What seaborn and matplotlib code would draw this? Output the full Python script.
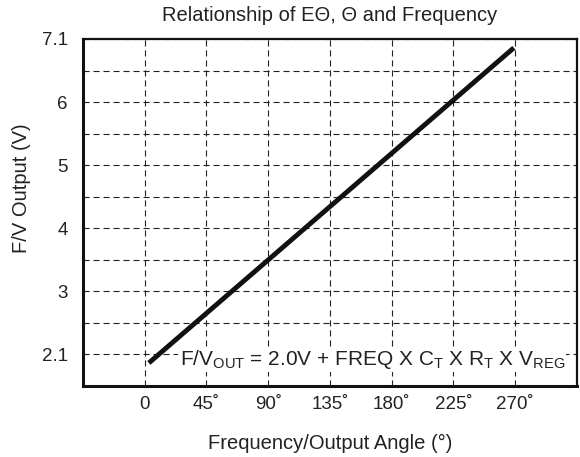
import matplotlib
matplotlib.use("Agg")
import matplotlib.pyplot as plt
import seaborn as sns
import pandas as pd

# Data (y in plotted axis units; labels 2.1 / 7.1 sit on 2 and 7)
angle = [3, 269]
fv_out = [1.865, 6.86]

x_ticks = [0, 45, 90, 135, 180, 225, 270]
x_tick_labels = ["0", "45˚", "90˚", "135˚", "180˚", "225˚", "270˚"]
y_ticks = [2, 3, 4, 5, 6, 7]
y_tick_labels = ["2.1", "3", "4", "5", "6", "7.1"]
y_minor = [2.5, 3.5, 4.5, 5.5, 6.5]

df = pd.DataFrame({"angle": angle, "fv": fv_out})

sns.set_style("white")
plt.rcParams["font.family"] = ["Liberation Sans", "DejaVu Sans"]
plt.rcParams["mathtext.fontset"] = "custom"
plt.rcParams["mathtext.rm"] = "Liberation Sans"
plt.rcParams["mathtext.it"] = "Liberation Sans"

fig = plt.figure(figsize=(5.8, 4.57), dpi=100)
ax = fig.add_axes([0.1431, 0.1554, 0.8517, 0.7593])

sns.lineplot(data=df, x="angle", y="fv", ax=ax, color="#111111", linewidth=3.5,
             solid_capstyle="butt")

ax.set_xlim(-45, 315)
ax.set_ylim(1.5, 7.0)
ax.set_xticks(x_ticks)
ax.set_xticklabels(x_tick_labels)
ax.set_yticks(y_ticks)
ax.set_yticklabels(y_tick_labels)
ax.set_yticks(y_minor, minor=True)

# dashed grid
grid_kw = dict(color="#222222", linewidth=0.8, linestyle=(0, (5.5, 3.5)))
ax.grid(True, which="major", axis="both", **grid_kw)
ax.grid(True, which="minor", axis="y", **grid_kw)

ax.tick_params(axis="x", which="major", direction="in", length=4, width=1,
               color="#222222", labelsize=13.5, pad=7, labelcolor="#222222")
ax.tick_params(axis="y", which="major", direction="in", length=0,
               labelsize=13.5, pad=11, labelcolor="#222222")
ax.tick_params(axis="y", which="minor", length=0)

for side in ["left", "bottom"]:
    ax.spines[side].set_linewidth(2.2)
    ax.spines[side].set_color("#111111")
for side in ["top", "right"]:
    ax.spines[side].set_linewidth(1.6)
    ax.spines[side].set_color("#111111")

ax.set_title("Relationship of EΘ, Θ and Frequency", fontsize=14.5, color="#222222", pad=13)
ax.set_xlabel("Frequency/Output Angle (°)", fontsize=14.5, color="#222222")
ax.set_ylabel("F/V Output (V)", fontsize=14.5, color="#222222")
ax.xaxis.set_label_coords(0.5, -0.138)
ax.yaxis.set_label_coords(-0.105, 0.57)

ax.text(25.5, 1.833,
        r"F/V$_{\mathrm{OUT}}$ = 2.0V + FREQ X C$_{\mathrm{T}}$ X R$_{\mathrm{T}}$ X V$_{\mathrm{REG}}$",
        fontsize=15, color="#222222", ha="left", va="baseline",
        bbox=dict(facecolor="white", edgecolor="none", pad=1))

fig.savefig("out.png", dpi=100)
